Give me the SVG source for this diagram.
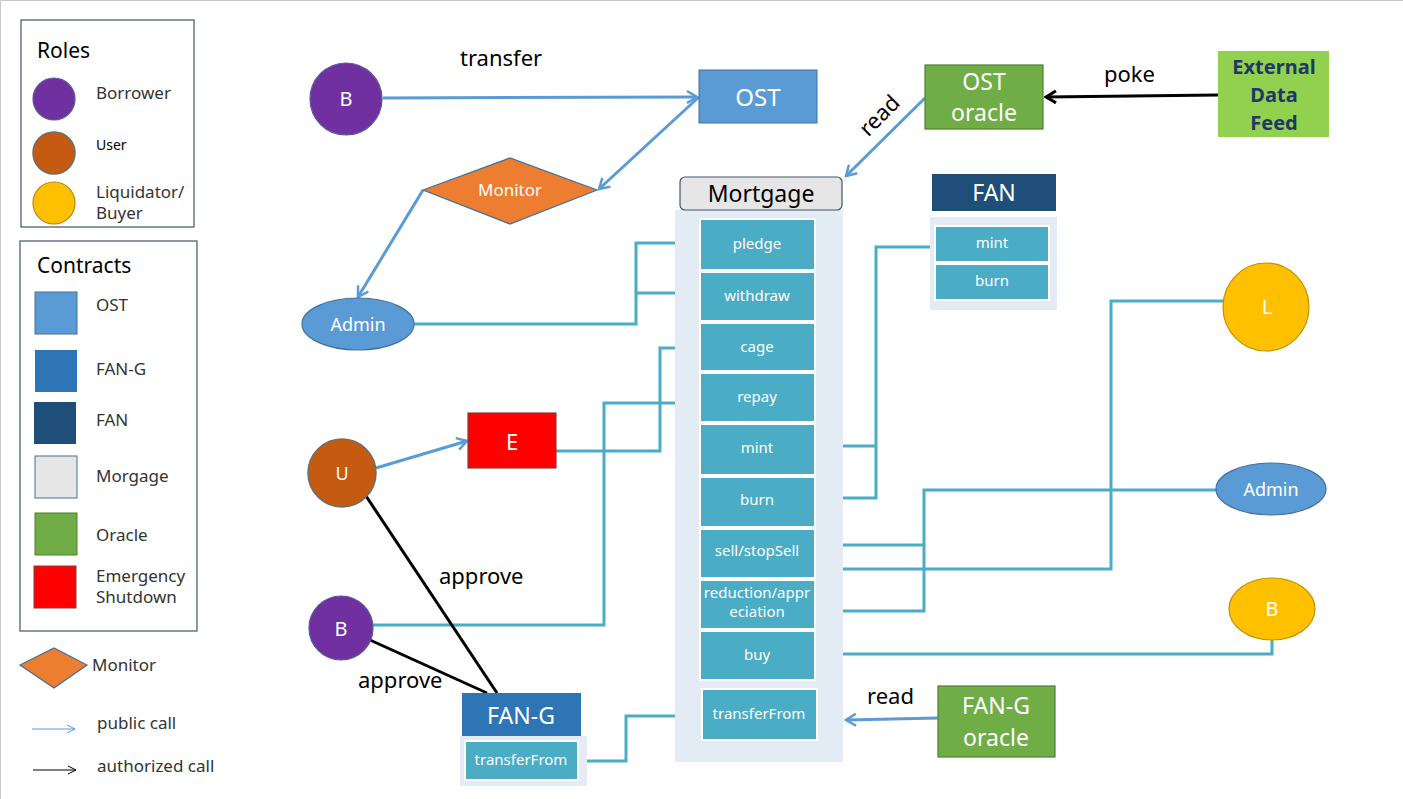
<svg xmlns="http://www.w3.org/2000/svg" width="1403" height="799" viewBox="0 0 1403 799">
<style>
text{font-family:"Noto Sans","Open Sans","DejaVu Sans",sans-serif}
.lg{font-size:17px;fill:#333}
.wt{fill:#fff;text-anchor:middle}
.fn{fill:#4BACC6;stroke:#fff;stroke-width:2}
.fnt{fill:#fff;text-anchor:middle;font-size:15px}
.con{fill:none;stroke:#4BACC6;stroke-width:3}
.pub{fill:none;stroke:#5B9BD5;stroke-width:3}
.blk{fill:none;stroke:#000;stroke-width:3}
.lab{font-size:22px;fill:#000}
.panel{fill:#E3EBF4}
</style>
<defs>
<marker id="ab" viewBox="0 0 14 14" refX="12" refY="7" markerWidth="14" markerHeight="14" markerUnits="userSpaceOnUse" orient="auto"><path d="M2,1 L12,7 L2,13" fill="none" stroke="#5B9BD5" stroke-width="2.5"/></marker>
<marker id="ak" viewBox="0 0 14 14" refX="12" refY="7" markerWidth="14" markerHeight="14" markerUnits="userSpaceOnUse" orient="auto"><path d="M2,1 L12,7 L2,13" fill="none" stroke="#000" stroke-width="3"/></marker>
<marker id="abs" viewBox="0 0 10 10" refX="9" refY="5" markerWidth="10" markerHeight="10" markerUnits="userSpaceOnUse" orient="auto"><path d="M1,1 L9,5 L1,9" fill="none" stroke="#5B9BD5" stroke-width="1"/></marker>
<marker id="aks" viewBox="0 0 10 10" refX="9" refY="5" markerWidth="10" markerHeight="10" markerUnits="userSpaceOnUse" orient="auto"><path d="M1,1 L9,5 L1,9" fill="none" stroke="#000" stroke-width="1"/></marker>
</defs>
<rect x="0" y="0" width="1403" height="799" fill="#fff"/>
<path d="M0.5,799 V0.5 H1403" fill="none" stroke="#c8c8c8"/>

<g id="legend">
<rect x="21" y="20" width="173" height="207" fill="none" stroke="#44546A" stroke-width="1.2"/>
<text x="37" y="58" font-size="21" fill="#000">Roles</text>
<circle cx="54" cy="99" r="21" fill="#7030A0" stroke="#5a5a9a" stroke-width="1.2"/>
<text x="96" y="99" class="lg">Borrower</text>
<circle cx="54" cy="153" r="21" fill="#C55A11" stroke="#6d6d6d" stroke-width="1.5"/>
<text x="96" y="150" font-size="14" fill="#000">User</text>
<circle cx="54" cy="203" r="21" fill="#FFC000" stroke="#B8860B" stroke-width="1.2"/>
<text x="96" y="198" class="lg">Liquidator/</text>
<text x="96" y="219" class="lg">Buyer</text>

<rect x="20" y="241" width="177" height="390" fill="none" stroke="#44546A" stroke-width="1.2"/>
<text x="37" y="273" font-size="21" fill="#000">Contracts</text>
<rect x="35" y="292" width="42" height="42" fill="#5B9BD5" stroke="#41719C"/>
<text x="96" y="311" class="lg">OST</text>
<rect x="35" y="350" width="42" height="42" fill="#2E75B6"/>
<text x="96" y="375" class="lg">FAN-G</text>
<rect x="34" y="402" width="42" height="42" fill="#1F4E79"/>
<text x="96" y="426" class="lg">FAN</text>
<rect x="35" y="456" width="42" height="42" fill="#E7E6E6" stroke="#41719C"/>
<text x="96" y="482" class="lg">Morgage</text>
<rect x="35" y="513" width="42" height="42" fill="#70AD47" stroke="#507E32"/>
<text x="96" y="541" class="lg">Oracle</text>
<rect x="34" y="566" width="42" height="42" fill="#FF0000" stroke="#8a3a3a"/>
<text x="96" y="582" class="lg">Emergency</text>
<text x="96" y="603" class="lg">Shutdown</text>

<polygon points="20,665 54,648 87,665 54,688" fill="#ED7D31" stroke="#41719C" stroke-width="1.2"/>
<text x="92" y="671" class="lg">Monitor</text>
<line x1="32" y1="729" x2="75" y2="729" stroke="#5B9BD5" stroke-width="1" marker-end="url(#abs)"/>
<text x="97" y="729" class="lg">public call</text>
<line x1="33" y1="770" x2="76" y2="770" stroke="#000" stroke-width="1" marker-end="url(#aks)"/>
<text x="97" y="772" class="lg">authorized call</text>
</g>

<g id="connectors">
<line x1="383" y1="98" x2="697" y2="97" class="pub" stroke-width="2.5" marker-end="url(#ab)"/>
<line x1="699" y1="97" x2="599" y2="189" class="pub" stroke-width="2.5" marker-end="url(#ab)"/>
<line x1="423" y1="190" x2="358" y2="297" class="pub" stroke-width="2.5" marker-end="url(#ab)"/>
<path d="M414,324 H636 V243 H700 M636,293 H700" class="con"/>
<line x1="925" y1="98" x2="846" y2="176" class="pub" marker-end="url(#ab)"/>
<line x1="1218" y1="95" x2="1046" y2="97" class="blk" marker-end="url(#ak)"/>
<path d="M935,247 H876 V498 H815 M815,446 H876" class="con"/>
<path d="M556,451 H660 V348 H700" class="con"/>
<path d="M700,403 H604 V625 H372" class="con"/>
<line x1="376" y1="468" x2="467" y2="441" class="pub" marker-end="url(#ab)"/>
<path d="M1218,490 H924 V611 H815 M815,545 H924" class="con"/>
<path d="M815,569 H1111 V301 H1223" class="con"/>
<path d="M815,654 H1272 V640" class="con"/>
<line x1="938" y1="718" x2="846" y2="720" class="pub" marker-end="url(#ab)"/>
<path d="M578,761 H626 V716 H702" class="con"/>
<line x1="366" y1="496" x2="497" y2="693" class="blk"/>
<line x1="370" y1="640" x2="487" y2="693" class="blk"/>
</g>

<g id="labels">
<text x="460" y="66" class="lab">transfer</text>
<text x="1104" y="82" class="lab">poke</text>
<text x="882" y="122" class="lab" font-size="21" text-anchor="middle" transform="rotate(-45 882 118)">read</text>
<text x="439" y="584" class="lab">approve</text>
<text x="358" y="688" class="lab">approve</text>
<text x="867" y="704" class="lab">read</text>
</g>

<g id="B-top">
<circle cx="346" cy="99" r="36" fill="#7030A0" stroke="#5a5a9a" stroke-width="1.2"/>
<text x="346" y="106" class="wt" font-size="20">B</text>
</g>
<g id="OST">
<rect x="699" y="70" width="118" height="53" fill="#5B9BD5" stroke="#41719C"/>
<text x="758" y="106" class="wt" font-size="24">OST</text>
</g>
<g id="Monitor">
<polygon points="423,190 510,158 597,190 510,224" fill="#ED7D31" stroke="#41719C" stroke-width="1.2"/>
<text x="510" y="196" class="wt" font-size="17">Monitor</text>
</g>
<g id="Admin-left">
<ellipse cx="358" cy="324" rx="56" ry="26" fill="#5B9BD5" stroke="#41719C" stroke-width="1.2"/>
<text x="358" y="331" class="wt" font-size="18">Admin</text>
</g>
<g id="OST-oracle">
<rect x="925" y="65" width="118" height="64" fill="#70AD47" stroke="#507E32" stroke-width="1.2"/>
<text x="984" y="90" class="wt" font-size="23">OST</text>
<text x="984" y="121" class="wt" font-size="23">oracle</text>
</g>
<g id="External-Data-Feed">
<rect x="1218" y="51" width="111" height="86" fill="#92D050"/>
<text x="1274" y="74" text-anchor="middle" font-size="20" font-weight="bold" fill="#1F3864">External</text>
<text x="1274" y="102" text-anchor="middle" font-size="20" font-weight="bold" fill="#1F3864">Data</text>
<text x="1274" y="130" text-anchor="middle" font-size="20" font-weight="bold" fill="#1F3864">Feed</text>
</g>
<g id="Mortgage">
<rect x="675" y="210" width="168" height="552" class="panel"/>
<rect x="680" y="177" width="162" height="33" rx="5" fill="#E7E6E6" stroke="#44546A" stroke-width="1.2"/>
<text x="761" y="202" text-anchor="middle" font-size="23" fill="#000">Mortgage</text>
<rect x="700" y="219" width="115" height="51" class="fn"/><text x="757" y="249" class="fnt">pledge</text>
<rect x="700" y="272" width="115" height="49" class="fn"/><text x="757" y="301" class="fnt">withdraw</text>
<rect x="700" y="323" width="115" height="48" class="fn"/><text x="757" y="352" class="fnt">cage</text>
<rect x="700" y="373" width="115" height="49" class="fn"/><text x="757" y="402" class="fnt">repay</text>
<rect x="700" y="424" width="115" height="51" class="fn"/><text x="757" y="453" class="fnt">mint</text>
<rect x="700" y="477" width="115" height="50" class="fn"/><text x="757" y="505" class="fnt">burn</text>
<rect x="700" y="529" width="115" height="49" class="fn"/><text x="757" y="556" class="fnt">sell/stopSell</text>
<rect x="700" y="580" width="115" height="49" class="fn"/><text x="757" y="598" class="fnt" font-size="12">reduction/appr</text><text x="757" y="617" class="fnt" font-size="12">eciation</text>
<rect x="700" y="631" width="115" height="49" class="fn"/><text x="757" y="660" class="fnt">buy</text>
<rect x="702" y="689" width="115" height="51" class="fn"/><text x="759" y="719" class="fnt">transferFrom</text>
</g>
<g id="FAN">
<rect x="930" y="217" width="127" height="93" class="panel"/>
<rect x="932" y="174" width="124" height="37" fill="#1F4E79"/>
<text x="994" y="201" class="wt" font-size="23">FAN</text>
<rect x="935" y="226" width="114" height="36" class="fn"/><text x="992" y="248" class="fnt">mint</text>
<rect x="935" y="264" width="114" height="36" class="fn"/><text x="992" y="286" class="fnt">burn</text>
</g>
<g id="L">
<ellipse cx="1266" cy="307" rx="43" ry="44" fill="#FFC000" stroke="#BF9000" stroke-width="1.2"/>
<text x="1267" y="314" class="wt" font-size="20">L</text>
</g>
<g id="Admin-right">
<ellipse cx="1271" cy="489" rx="55" ry="26" fill="#5B9BD5" stroke="#41719C" stroke-width="1.2"/>
<text x="1271" y="496" class="wt" font-size="18">Admin</text>
</g>
<g id="B-right">
<ellipse cx="1272" cy="609" rx="43" ry="31" fill="#FFC000" stroke="#BF9000" stroke-width="1.2"/>
<text x="1272" y="616" class="wt" font-size="20">B</text>
</g>
<g id="U">
<circle cx="342" cy="473" r="34" fill="#C55A11" stroke="#6d6d6d" stroke-width="1.5"/>
<text x="342" y="480" class="wt" font-size="18">U</text>
</g>
<g id="E">
<rect x="468" y="413" width="88" height="55" fill="#FF0000" stroke="#8a3a3a" stroke-width="1.2"/>
<text x="512" y="450" class="wt" font-size="22">E</text>
</g>
<g id="B-bottom">
<circle cx="341" cy="628" r="32" fill="#7030A0" stroke="#5a5a9a" stroke-width="1.2"/>
<text x="341" y="636" class="wt" font-size="20">B</text>
</g>
<g id="FAN-G">
<rect x="460" y="736" width="127" height="50" class="panel"/>
<rect x="462" y="693" width="119" height="43" fill="#2E75B6"/>
<text x="521" y="724" class="wt" font-size="23">FAN-G</text>
<rect x="465" y="741" width="113" height="39" class="fn"/><text x="521" y="765" class="fnt">transferFrom</text>
</g>
<g id="FAN-G-oracle">
<rect x="938" y="686" width="117" height="71" fill="#70AD47" stroke="#507E32" stroke-width="1.2"/>
<text x="996" y="714" class="wt" font-size="23">FAN-G</text>
<text x="996" y="746" class="wt" font-size="23">oracle</text>
</g>
</svg>
